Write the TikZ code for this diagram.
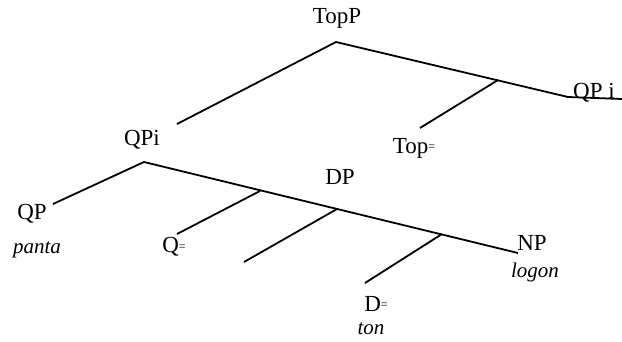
\documentclass[tikz,border=0pt]{standalone}
\usepackage{fontspec}
\setmainfont{Liberation Serif}
\newcommand{\trc}{\raisebox{0.25ex}{\fontsize{12}{12}\selectfont =}}
\begin{document}
\begin{tikzpicture}[x=1pt,y=-1pt,
        lbl/.style={inner sep=0pt,font=\fontsize{23}{26}\selectfont},
        wrd/.style={inner sep=0pt,font=\fontsize{21}{24}\selectfont\itshape},
        branch/.style={line width=1.8pt}]
        \useasboundingbox (0,0) rectangle (622,341);
		% labels
		\node[lbl] (topp) at (337,18) {TopP};
		\node[lbl] (qpi) at (142,140) {QPi};
		\node[lbl] (qpj) at (594,93) {QP i};
		\node[lbl] (topz) at (414,148) {Top\trc};
		\node[lbl] (dp) at (340,177) {DP};
		\node[lbl] (qp) at (32,214) {QP};
		\node[wrd] (panta) at (37,250) {panta};
		\node[lbl] (qz) at (174,247) {Q\trc};
		\node[lbl] (np) at (532,243) {NP};
		\node[wrd] (logon) at (535,272) {logon};
		\node[lbl] (dz) at (376,304) {D\trc};
		\node[wrd] (ton) at (371,329) {ton};
		% apexes and junctions
		\coordinate (a1) at (336,42);
		\coordinate (a2) at (144,162);
		\coordinate (j1) at (498,80);
		\coordinate (j2) at (260,191);
		\coordinate (j3) at (337,209);
		\coordinate (j4) at (442,234);
		% branch ends
		\coordinate (eqpi) at (177,124);
		\coordinate (eqpj) at (568,97);
		\coordinate (eqpj2) at (622,99);
		\coordinate (etop) at (420,128);
		\coordinate (eqp) at (53,204);
		\coordinate (enp) at (518,253);
		\coordinate (eq) at (177,234);
		\coordinate (edp) at (244,262);
		\coordinate (ed) at (365,283);
		\draw[branch] (eqpi) -- (a1) -- (eqpj) -- (eqpj2);
		\draw[branch] (j1) -- (etop);
		\draw[branch] (eqp) -- (a2) -- (enp);
		\draw[branch] (j2) -- (eq);
		\draw[branch] (j3) -- (edp);
		\draw[branch] (j4) -- (ed);
\end{tikzpicture}
\end{document}
